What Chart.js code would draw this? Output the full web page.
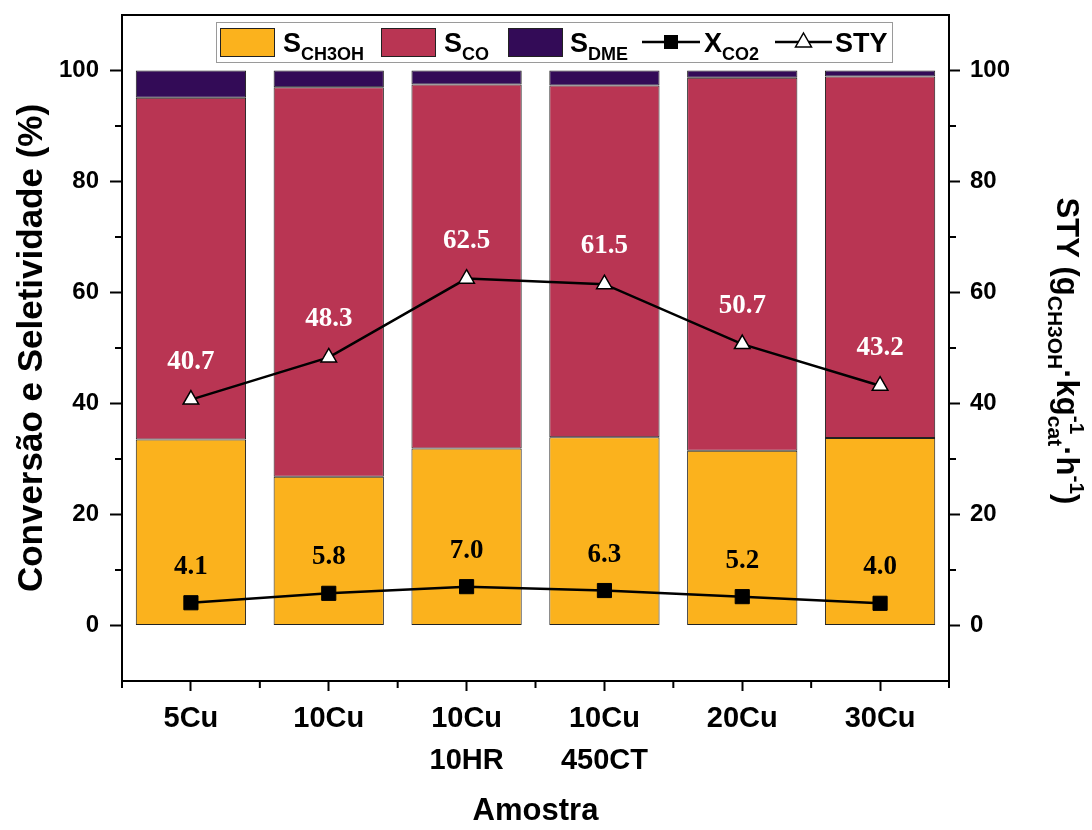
<!DOCTYPE html>
<html>
<head>
<meta charset="utf-8">
<script src="https://cdn.jsdelivr.net/npm/chart.js@4"></script>
<style>
  html, body { margin: 0; padding: 0; background: #fff; }
  #wrap { width: 1092px; height: 830px; }
</style>
</head>
<body>
<div id="wrap"><canvas id="chart" width="1092" height="830"></canvas></div>
<script>
const samples = ['5Cu', '10Cu', ['10Cu', '10HR'], ['10Cu', '450CT'], '20Cu', '30Cu']
const sCH3OH = [33.5, 26.8, 31.9, 33.9, 31.5, 33.8]
const sCO = [61.6, 70.2, 65.6, 63.4, 67.2, 65.1]
const sDME = [4.9, 3.0, 2.5, 2.7, 1.3, 1.1]
const xCO2 = [4.1, 5.8, 7.0, 6.3, 5.2, 4.0]
const sty = [40.7, 48.3, 62.5, 61.5, 50.7, 43.2]
const yMajor = [0, 20, 40, 60, 80, 100]
const yMinor = [10, 30, 50, 70, 90]

const SANS = '"Liberation Sans", Arial, sans-serif'
const SERIF = '"Liberation Serif", "Times New Roman", serif'
const ORANGE = '#fbb21d'
const RED = '#b93553'
const PURPLE = '#330b57'

// text with sub/superscripts, returns width
function richText(ctx, x, y, parts, size, draw, ratio = 0.62) {
  let cx = x
  for (const p of parts) {
    if (typeof p === 'string') {
      ctx.font = `bold ${size}px ${SANS}`
      if (draw) ctx.fillText(p, cx, y)
      cx += ctx.measureText(p).width
    } else {
      ctx.font = `bold ${Math.round(size * ratio)}px ${SANS}`
      let w = 0
      if (p.sub) { if (draw) ctx.fillText(p.sub, cx, y + size * 0.28); w = ctx.measureText(p.sub).width }
      if (p.sup) { if (draw) ctx.fillText(p.sup, cx, y - size * 0.42); w = Math.max(w, ctx.measureText(p.sup).width) }
      cx += w
    }
  }
  return cx - x
}

const tickColor = ctx => (ctx.tick && yMajor.includes(ctx.tick.value)) ? '#000' : 'rgba(0,0,0,0)'
const noPad = s => { s.paddingTop = 0; s.paddingBottom = 0; s.paddingLeft = 0; s.paddingRight = 0 }

const extras = {
  id: 'extras',
  afterDatasetsDraw(chart) {
    const {ctx} = chart
    ctx.save()
    ctx.textAlign = 'center'
    ctx.textBaseline = 'middle'
    ctx.font = `bold 27px ${SERIF}`
    chart.getDatasetMeta(3).data.forEach((pt, i) => {
      ctx.fillStyle = '#000'
      ctx.fillText(xCO2[i].toFixed(1), pt.x, pt.y - 36)
    })
    chart.getDatasetMeta(4).data.forEach((pt, i) => {
      ctx.fillStyle = '#fff'
      ctx.fillText(sty[i].toFixed(1), pt.x, pt.y - 38)
    })
    ctx.restore()
  },
  afterDraw(chart) {
    const {ctx, chartArea: a, scales} = chart
    ctx.save()
    ctx.strokeStyle = '#000'
    ctx.lineWidth = 2
    // top of the frame
    ctx.beginPath(); ctx.moveTo(a.left - 1, a.top); ctx.lineTo(a.right + 1, a.top); ctx.stroke()
    // minor ticks
    ctx.beginPath()
    yMinor.forEach(v => {
      const y = scales.y.getPixelForValue(v)
      ctx.moveTo(a.left, y); ctx.lineTo(a.left - 7, y)
      ctx.moveTo(a.right, y); ctx.lineTo(a.right + 7, y)
    })
    for (let i = -0.5; i <= samples.length - 0.5; i += 1) {
      const x = scales.x.getPixelForValue(i)
      ctx.moveTo(x, a.bottom); ctx.lineTo(x, a.bottom + 7)
    }
    ctx.stroke()

    // legend
    const lx = 216, ly = 22, lw = 676, lh = 40, cy = ly + lh / 2
    ctx.fillStyle = '#fff'
    ctx.fillRect(lx, ly, lw, lh)
    ctx.strokeStyle = '#9a9a9a'
    ctx.lineWidth = 1
    ctx.strokeRect(lx + 0.5, ly + 0.5, lw, lh)
    ctx.strokeStyle = '#222'
    ;[[220, ORANGE], [381, RED], [508, PURPLE]].forEach(([sx, c]) => {
      ctx.fillStyle = c
      ctx.fillRect(sx, cy - 14, 54, 28)
      ctx.strokeRect(sx + 0.5, cy - 13.5, 54, 28)
    })
    ctx.strokeStyle = '#000'
    ctx.lineWidth = 2.5
    ctx.beginPath()
    ctx.moveTo(642, cy); ctx.lineTo(700, cy)
    ctx.moveTo(775, cy); ctx.lineTo(832, cy)
    ctx.stroke()
    ctx.fillStyle = '#000'
    ctx.fillRect(664, cy - 7, 14, 14)
    ctx.beginPath()
    ctx.moveTo(803.5, cy - 9); ctx.lineTo(811.5, cy + 5); ctx.lineTo(795.5, cy + 5); ctx.closePath()
    ctx.fillStyle = '#fff'; ctx.fill()
    ctx.lineWidth = 1.5; ctx.stroke()
    ctx.fillStyle = '#000'
    ctx.textAlign = 'left'
    ctx.textBaseline = 'alphabetic'
    const base = cy + 10
    richText(ctx, 283, base, ['S', {sub: 'CH3OH'}], 27, true, 0.66)
    richText(ctx, 444, base, ['S', {sub: 'CO'}], 27, true, 0.66)
    richText(ctx, 570, base, ['S', {sub: 'DME'}], 27, true, 0.66)
    richText(ctx, 704, base, ['X', {sub: 'CO2'}], 27, true, 0.66)
    richText(ctx, 835, base, ['STY'], 27, true)

    // right axis title
    const parts = ['STY (g', {sub: 'CH3OH'}, '·kg', {sub: 'cat', sup: '-1'}, '·h', {sup: '-1'}, ')']
    ctx.translate(1068, 351)
    ctx.rotate(Math.PI / 2)
    const w = richText(ctx, 0, 0, parts, 31, false, 0.68)
    richText(ctx, -w / 2, 11, parts, 31, true, 0.68)
    ctx.restore()
  }
}

new Chart(document.getElementById('chart'), {
  data: {
    labels: samples,
    datasets: [
      {type: 'bar', label: 'S_CH3OH', data: sCH3OH, backgroundColor: ORANGE, borderColor: '#222', borderWidth: 1, borderSkipped: false, order: 2, yAxisID: 'y'},
      {type: 'bar', label: 'S_CO', data: sCO, backgroundColor: RED, borderColor: '#222', borderWidth: 1, borderSkipped: false, order: 2, yAxisID: 'y'},
      {type: 'bar', label: 'S_DME', data: sDME, backgroundColor: PURPLE, borderColor: '#222', borderWidth: 1, borderSkipped: false, order: 2, yAxisID: 'y'},
      {type: 'line', label: 'X_CO2', data: xCO2, stack: 'xco2', borderColor: '#000', borderWidth: 2.5, pointStyle: 'rect', pointRadius: 10, pointBackgroundColor: '#000', pointBorderColor: '#000', pointBorderWidth: 1, fill: false, tension: 0, order: 0, yAxisID: 'y'},
      {type: 'line', label: 'STY', data: sty, borderColor: '#000', borderWidth: 2.5, pointStyle: 'triangle', pointRadius: 9, pointBackgroundColor: '#fff', pointBorderColor: '#000', pointBorderWidth: 1.5, fill: false, tension: 0, order: 0, yAxisID: 'y2'}
    ]
  },
  options: {
    responsive: false,
    animation: false,
    layout: {padding: {top: 15, left: 0, right: 0, bottom: 0}, autoPadding: false},
    plugins: {legend: {display: false}, tooltip: {enabled: false}},
    datasets: {bar: {barPercentage: 0.8, categoryPercentage: 1}},
    scales: {
      x: {
        stacked: true,
        afterFit: s => { s.height = 149; noPad(s) },
        grid: {display: true, drawOnChartArea: false, offset: false, tickLength: 10, tickWidth: 2, color: '#000'},
        border: {display: true, color: '#000', width: 2},
        ticks: {color: '#000', padding: 7, font: {family: SANS, size: 29, weight: 'bold', lineHeight: 1.45}, maxRotation: 0, autoSkip: false},
        title: {display: true, text: 'Amostra', color: '#000', font: {family: SANS, size: 31, weight: 'bold', lineHeight: 1.2}, padding: {top: 0, bottom: 0}}
      },
      y: {
        stacked: true,
        position: 'left',
        min: -10, max: 110,
        afterFit: s => { s.width = 122; noPad(s) },
        afterBuildTicks: s => { s.ticks = [-10, ...yMajor, ...yMinor, 110].sort((p, q) => p - q).map(v => ({value: v})) },
        grid: {display: true, drawOnChartArea: false, tickLength: 12, tickWidth: 2, color: tickColor},
        border: {display: true, color: '#000', width: 2},
        ticks: {color: '#000', padding: 11, font: {family: SANS, size: 24, weight: 'bold'}, callback: v => yMajor.includes(v) ? v : ''},
        title: {display: true, text: 'Conversão e Seletividade (%)', color: '#000', font: {family: SANS, size: 35, weight: 'bold', lineHeight: 1.2}, padding: {top: 11, bottom: 0}}
      },
      y2: {
        position: 'right',
        min: -10, max: 110,
        afterFit: s => { s.width = 143; noPad(s) },
        afterBuildTicks: s => { s.ticks = [-10, ...yMajor, ...yMinor, 110].sort((p, q) => p - q).map(v => ({value: v})) },
        grid: {display: true, drawOnChartArea: false, tickLength: 11, tickWidth: 2, color: tickColor},
        border: {display: true, color: '#000', width: 2},
        ticks: {color: '#000', padding: 10, font: {family: SANS, size: 24, weight: 'bold'}, callback: v => yMajor.includes(v) ? v : ''}
      }
    }
  },
  plugins: [extras]
})
</script>
</body>
</html>
